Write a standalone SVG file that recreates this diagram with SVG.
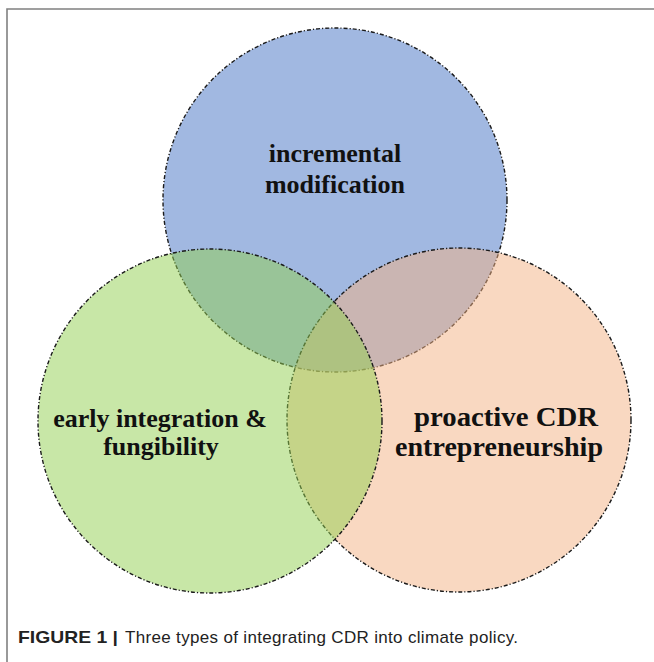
<svg xmlns="http://www.w3.org/2000/svg" width="654" height="662" viewBox="0 0 654 662">
<style>
  .c { fill-opacity: 0.5; stroke: #1a1a1a; stroke-width: 1.4; stroke-dasharray: 4 2 1.2 2; }
  .lbl { font-family: "Liberation Serif", "Times New Roman", serif; font-weight: bold; fill: #111; text-anchor: middle; }
  .cap { font-family: "Liberation Sans", Arial, sans-serif; fill: #222; font-size: 17px; }
</style>
<rect width="654" height="662" fill="#ffffff"/>
<path d="M7 662 V9 H654" fill="none" stroke="#808080" stroke-width="1.6"/>
<g id="connectors"></g>
<g id="node-incremental">
  <circle class="c" cx="335" cy="200" r="172" fill="#4472C4"/>
</g>
<g id="node-proactive">
  <circle class="c" cx="459" cy="420" r="172" fill="#F4B183"/>
</g>
<g id="node-early">
  <circle class="c" cx="210" cy="421" r="172" fill="#92D050"/>
</g>
<g id="labels">
  <text class="lbl" x="335" y="162" font-size="26">incremental</text>
  <text class="lbl" x="335" y="193" font-size="26">modification</text>
  <text class="lbl" x="160" y="427" font-size="26">early integration &amp;</text>
  <text class="lbl" x="161" y="455" font-size="26">fungibility</text>
  <text class="lbl" x="506" y="426" font-size="27" textLength="184" lengthAdjust="spacingAndGlyphs">proactive CDR</text>
  <text class="lbl" x="499" y="456" font-size="27" textLength="208" lengthAdjust="spacingAndGlyphs">entrepreneurship</text>
</g>
<g id="caption">
  <text class="cap" x="18" y="643" font-weight="bold" textLength="100" lengthAdjust="spacingAndGlyphs">FIGURE 1 |</text>
  <text class="cap" x="125" y="643" textLength="393" lengthAdjust="spacing">Three types of integrating CDR into climate policy.</text>
</g>
</svg>
